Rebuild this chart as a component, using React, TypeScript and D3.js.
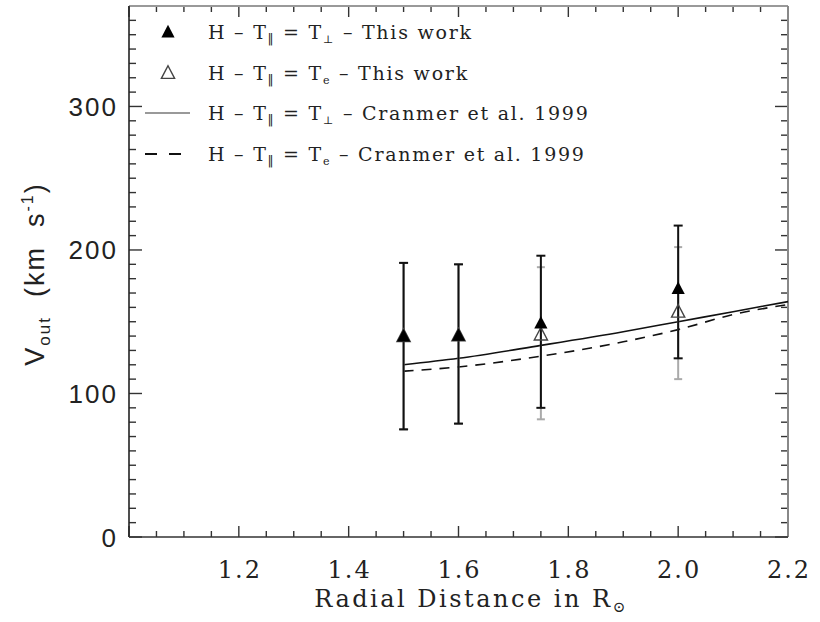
import React from "react";
import * as d3 from "d3";

// Measurements (This work)
const radii = [1.5, 1.6, 1.75, 2.0];
const vPerp = [140, 140.5, 149, 173];
const vPerpLo = [75, 79, 90, 124.5];
const vPerpHi = [191, 190, 196, 217];
const vE = [140, 140.5, 141, 157];
const vELo = [75, 79, 82, 110];
const vEHi = [191, 190, 188, 202];

// Cranmer et al. 1999 model curves
const modelR = [1.5, 1.6, 1.75, 1.9, 2.0, 2.1, 2.2];
const modelPerp = [120, 124.5, 133.5, 143, 150, 157, 164];
const modelE = [115.5, 118.5, 126, 136, 144.5, 155, 162];

const xTickLabels = ["1.2", "1.4", "1.6", "1.8", "2.0", "2.2"];
const yTickLabels = ["0", "100", "200", "300"];

const W = 820;
const H = 622;
const L = 129, R = 788, T = 6, B = 537;

export default function App() {
  const x = d3.scaleLinear().domain([1.0, 2.2]).range([L, R]);
  const y = d3.scaleLinear().domain([0, 370]).range([B, T]);

  const xMajor = d3.range(1.0, 2.2001, 0.2);
  const xMinor = d3.range(1.0, 2.2001, 0.05);
  const yMajor = d3.range(0, 370, 100);
  const yMinor = d3.range(0, 370, 10);

  const line = d3
    .line<[number, number]>()
    .x((d) => x(d[0]))
    .y((d) => y(d[1]))
    .curve(d3.curveMonotoneX);

  const perpPath = line(modelR.map((r, i) => [r, modelPerp[i]]) as [number, number][]) || "";
  const ePath = line(modelR.map((r, i) => [r, modelE[i]]) as [number, number][]) || "";

  const tri = (cx: number, cy: number, s: number) =>
    `M${cx},${cy - s * 0.6} L${cx + s * 0.55},${cy + s * 0.45} L${cx - s * 0.55},${cy + s * 0.45} Z`;

  const serif = "'DejaVu Serif', 'Liberation Serif', serif";
  const sans = "'Liberation Sans', Arial, sans-serif";
  const txt = "#222";

  const legendRows = [
    { y: 32, kind: "filled", sub: "⊥", tail: " – This work" },
    { y: 73, kind: "open", sub: "e", tail: " – This work" },
    { y: 113, kind: "solid", sub: "⊥", tail: " – Cranmer et al. 1999" },
    { y: 154, kind: "dashed", sub: "e", tail: " – Cranmer et al. 1999" },
  ];

  return (
    <svg
      width={W}
      height={H}
      style={{ position: "absolute", left: 0, top: 0, background: "#fff" }}
    >
      <rect x={0} y={0} width={W} height={H} fill="#fff" />

      {/* ticks */}
      {xMinor.map((v, i) => {
        const isMaj = Math.abs(Math.round(v * 5) - v * 5) < 1e-6;
        const len = isMaj ? 11 : 6;
        return (
          <g key={"xm" + i} stroke="#333" strokeWidth={1.4}>
            <line x1={x(v)} x2={x(v)} y1={B} y2={B - len} />
            <line x1={x(v)} x2={x(v)} y1={T} y2={T + len} />
          </g>
        );
      })}
      {yMinor.map((v, i) => {
        const isMaj = v % 100 === 0;
        const len = isMaj ? 13 : 7;
        return (
          <g key={"ym" + i} stroke="#333" strokeWidth={1.4}>
            <line x1={L} x2={L + len} y1={y(v)} y2={y(v)} />
            <line x1={R} x2={R - len} y1={y(v)} y2={y(v)} />
          </g>
        );
      })}

      {/* frame */}
      <line x1={L} x2={R} y1={T} y2={T} stroke="#999" strokeWidth={2} />
      <line x1={R} x2={R} y1={T} y2={B} stroke="#888" strokeWidth={2} />
      <line x1={L} x2={L} y1={T} y2={B} stroke="#222" strokeWidth={1.6} />
      <line x1={L} x2={R} y1={B} y2={B} stroke="#333" strokeWidth={1.6} />

      {/* x tick labels */}
      {xMajor.slice(1).map((v, i) => (
        <text
          key={"xl" + i}
          x={x(v) + 1}
          y={578}
          textAnchor="middle"
          fontFamily={serif}
          fontSize={24}
          letterSpacing={2}
          fill={txt}
        >
          {xTickLabels[i]}
        </text>
      ))}
      {/* y tick labels */}
      {yMajor.map((v, i) => (
        <text
          key={"yl" + i}
          x={118}
          y={y(v) + 9.5}
          textAnchor="end"
          fontFamily={sans}
          fontSize={26}
          letterSpacing={2}
          fill={txt}
        >
          {yTickLabels[i]}
        </text>
      ))}

      {/* axis titles */}
      <text
        x={471}
        y={607}
        textAnchor="middle"
        fontFamily={serif}
        fontSize={24}
        letterSpacing={2.5}
        fill={txt}
      >
        Radial Distance in R
        <tspan fontSize={15} dy={5}>⊙</tspan>
      </text>
      <text
        transform="translate(44,274) rotate(-90)"
        textAnchor="middle"
        fontFamily={sans}
        fontSize={27}
        letterSpacing={2}
        fill={txt}
        style={{ whiteSpace: "pre" }}
      >
        V<tspan fontSize={17} dy={6}>out</tspan>
        <tspan dy={-6}>{"  (km  s"}</tspan>
        <tspan fontSize={16} dy={-11}>-1</tspan>
        <tspan dy={11}>)</tspan>
      </text>

      {/* model curves */}
      <path d={perpPath} fill="none" stroke="#111" strokeWidth={1.6} />
      <path d={ePath} fill="none" stroke="#111" strokeWidth={1.6} strokeDasharray="10,8" />

      {/* Te error bars (gray) */}
      {radii.map((r, i) => (
        <g key={"ee" + i} stroke="#aaa" strokeWidth={2}>
          <line x1={x(r)} x2={x(r)} y1={y(vELo[i])} y2={y(vEHi[i])} />
          <line x1={x(r) - 4} x2={x(r) + 4} y1={y(vELo[i])} y2={y(vELo[i])} />
          <line x1={x(r) - 4} x2={x(r) + 4} y1={y(vEHi[i])} y2={y(vEHi[i])} />
        </g>
      ))}
      {/* Tperp error bars (black) */}
      {radii.map((r, i) => (
        <g key={"pe" + i} stroke="#111" strokeWidth={2}>
          <line x1={x(r)} x2={x(r)} y1={y(vPerpLo[i])} y2={y(vPerpHi[i])} />
          <line x1={x(r) - 4.5} x2={x(r) + 4.5} y1={y(vPerpLo[i])} y2={y(vPerpLo[i])} />
          <line x1={x(r) - 4.5} x2={x(r) + 4.5} y1={y(vPerpHi[i])} y2={y(vPerpHi[i])} />
        </g>
      ))}
      {/* open triangles */}
      {radii.map((r, i) => (
        <path
          key={"ot" + i}
          d={tri(x(r), y(vE[i]), 12)}
          fill="none"
          stroke="#444"
          strokeWidth={1.4}
        />
      ))}
      {/* filled triangles */}
      {radii.map((r, i) => (
        <path key={"ft" + i} d={tri(x(r), y(vPerp[i]), 12)} fill="#000" />
      ))}

      {/* legend */}
      {legendRows.map((row, i) => (
        <g key={"lg" + i}>
          {row.kind === "filled" && <path d={tri(168, row.y, 12)} fill="#000" />}
          {row.kind === "open" && (
            <path d={tri(168, row.y, 12)} fill="none" stroke="#444" strokeWidth={1.4} />
          )}
          {row.kind === "solid" && (
            <line x1={145} x2={190} y1={row.y} y2={row.y} stroke="#999" strokeWidth={2} />
          )}
          {row.kind === "dashed" && (
            <line
              x1={145}
              x2={184}
              y1={row.y}
              y2={row.y}
              stroke="#111"
              strokeWidth={1.8}
              strokeDasharray="12,12"
            />
          )}
          <text
            x={208}
            y={row.y + 7}
            fontFamily={serif}
            fontSize={19}
            letterSpacing={1.75}
            fill={txt}
          >
            H – T
            <tspan fontSize={12} dy={4} fill={txt} fontFamily="'DejaVu Sans', sans-serif">‖</tspan>
            <tspan dy={-4}> = T</tspan>
            <tspan fontSize={11} dy={4}>{row.sub}</tspan>
            <tspan dy={-4}>{row.tail}</tspan>
          </text>
        </g>
      ))}
    </svg>
  );
}
